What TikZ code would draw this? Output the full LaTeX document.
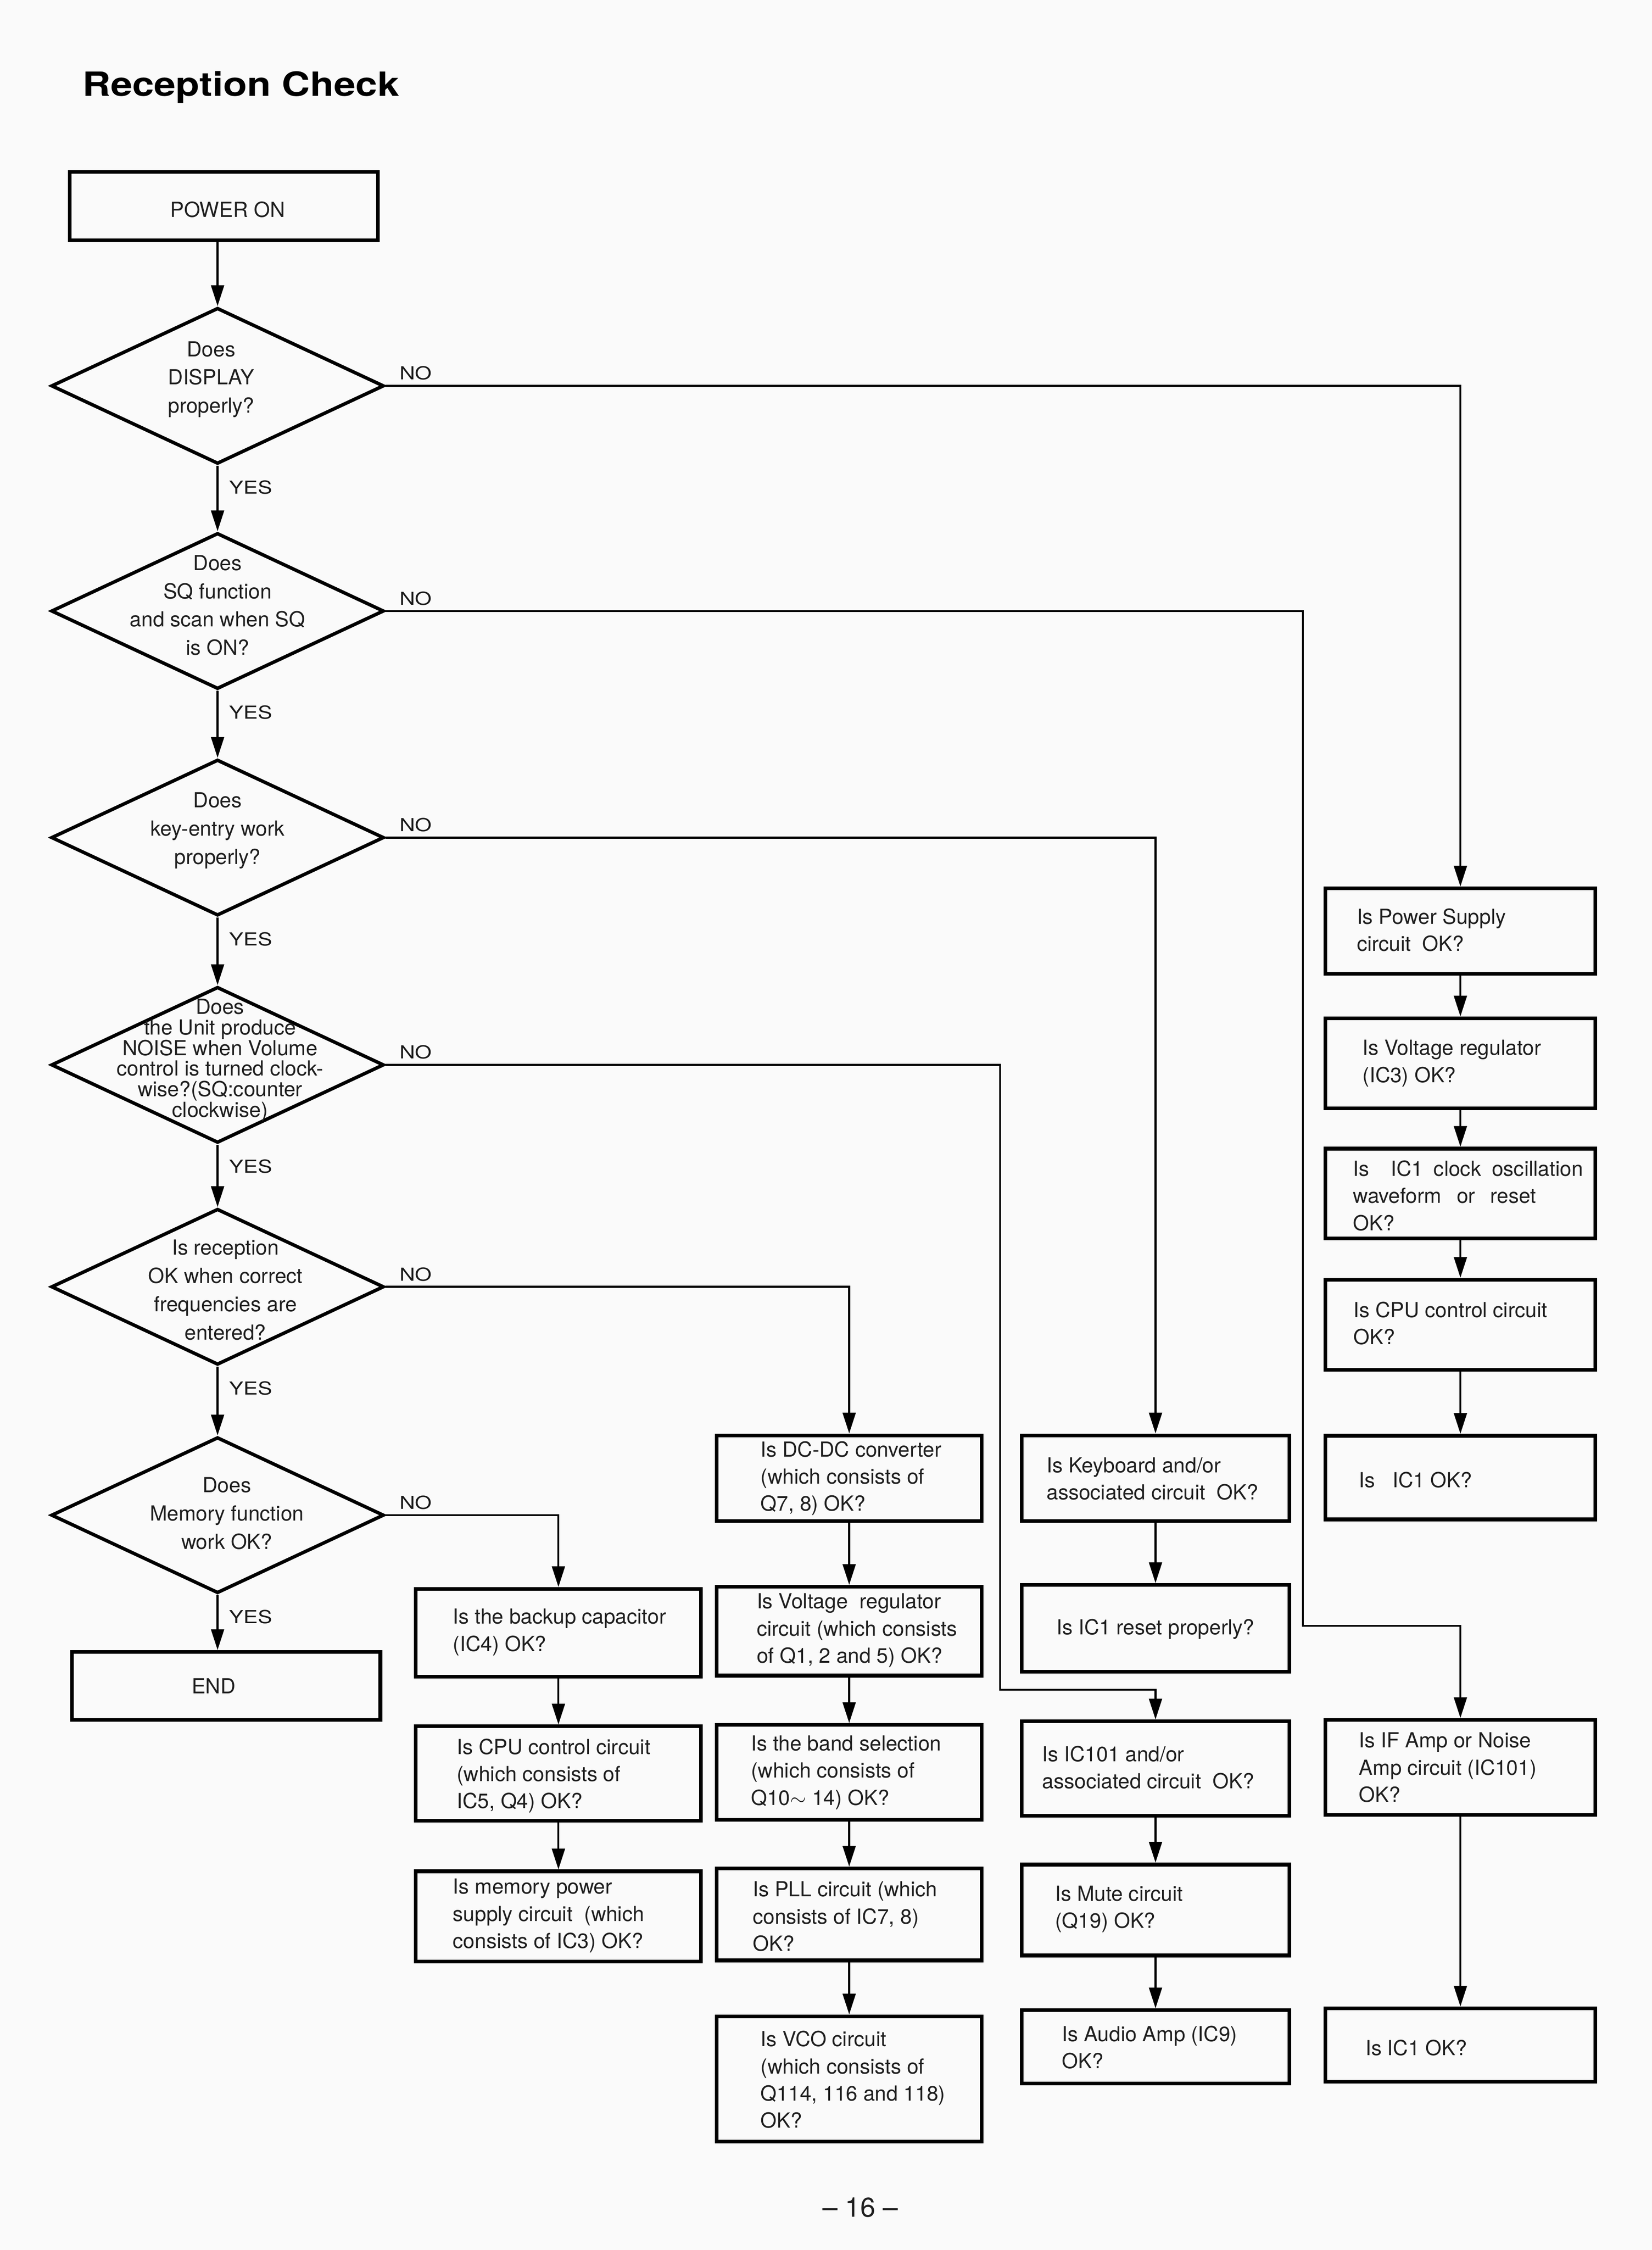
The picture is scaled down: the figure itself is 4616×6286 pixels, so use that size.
\documentclass[tikz,border=0pt]{standalone}
\usepackage{fontspec}
\setmainfont{TeX Gyre Heros}
\newfontfamily\titlefont[FakeStretch=1.17]{TeX Gyre Heros}
\newfontfamily\lblfont[FakeStretch=1.2]{TeX Gyre Heros}
\usetikzlibrary{shapes.geometric,arrows.meta}
\newcommand\bx[5]{\node[box, minimum width={(#4-#2)*0.25pt}, minimum height={(#5-#3)*0.25pt}] (#1) at ({(#2+#4)/2},{(#3+#5)/2}) {};}
\begin{document}
\begin{tikzpicture}[x=0.25pt,y=-0.25pt,
  box/.style={draw, line width=2.6pt, rectangle, inner sep=0pt},
  dia/.style={draw, line width=2.4pt, diamond, inner sep=0pt, minimum width=232.5pt, minimum height=109pt},
  conn/.style={line width=1.4pt},
  arr/.style={conn, -{Triangle[length=14.5pt,width=9pt]}},
  txt/.style={anchor=west, align=left, inner sep=0pt, text=black!88, font=\fontsize{14.5}{19}\selectfont},
  ctxt/.style={align=center, inner sep=0pt, text=black!88, font=\fontsize{14.5}{19.75}\selectfont},
  yes/.style={anchor=base west, inner sep=0pt, text=black!90, font=\lblfont\fontsize{12.5}{15}\selectfont, xshift=8pt, yshift=-19.75pt},
  no/.style={anchor=base west, inner sep=0pt, text=black!90, font=\lblfont\fontsize{12.5}{15}\selectfont, xshift=9.5pt, yshift=4.25pt}]
\fill[white!98!black] (0,0) rectangle (4616,6286);
\useasboundingbox (0,0) rectangle (4616,6286);

% title
\node[anchor=base west, inner sep=0pt, font=\titlefont\bfseries\fontsize{23.3}{28}\selectfont] (title) at (230,268) {Reception Check};

% main column
\bx{pwr}{195}{480}{1056}{671}
\node[ctxt] (tpwr) at (636,585) {POWER ON};
\node[dia] (d1) at (608,1078) {};
\node[ctxt] (t1) at (590,1060) {Does\\DISPLAY\\properly?};
\node[dia] (d2) at (608,1707) {};
\node[ctxt] (t2) at (608,1691) {Does\\SQ function\\and scan when SQ\\is ON?};
\node[dia] (d3) at (608,2340) {};
\node[ctxt] (t3) at (608,2320) {Does\\key-entry work\\properly?};
\node[dia] (d4) at (608,2975) {};
\node[ctxt, font=\fontsize{14.5}{14.4}\selectfont] (t4) at (615,2962) {Does\\the Unit produce\\NOISE when Volume\\control is turned clock-\\wise?(SQ:counter\\clockwise)};
\node[dia] (d5) at (608,3595) {};
\node[ctxt] (t5) at (630,3604) {Is reception\\OK when correct\\frequencies are\\entered?};
\node[dia] (d6) at (608,4233) {};
\node[ctxt] (t6) at (634,4228) {Does\\Memory function\\work OK?};
\bx{end}{201}{4615}{1063}{4805}
\node[ctxt] (tend) at (597,4710) {END};

% right column
\bx{ps}{3704}{2482}{4458}{2721}
\node[txt] (tps) at (3791,2598) {Is Power Supply\\circuit\ \ OK?};
\bx{vr}{3704}{2845}{4458}{3096}
\node[txt] (tvr) at (3807,2971) {Is Voltage regulator\\(IC3) OK?};
\bx{clk}{3704}{3209}{4458}{3460}
\node[txt] (tclk) at (3780,3340) {\makebox[160.75pt][s]{Is\ \ IC1 clock oscillation}\\\makebox[128pt][s]{waveform or reset}\\OK?};
\bx{cpu}{3704}{3575}{4458}{3827}
\node[txt] (tcpu) at (3782,3697) {Is CPU control circuit\\OK?};
\bx{ica}{3704}{4011}{4458}{4245}
\node[txt] (tica) at (3797,4135) {Is\ \ \ IC1 OK?};
\bx{ifamp}{3704}{4805}{4458}{5070}
\node[txt] (tifamp) at (3797,4938) {Is IF Amp or Noise\\Amp circuit (IC101)\\OK?};
\bx{icb}{3704}{5611}{4458}{5816}
\node[txt] (ticb) at (3815,5721) {Is IC1 OK?};

% keyboard column
\bx{kb}{2855}{4010}{3603}{4249}
\node[txt] (tkb) at (2924,4131) {Is Keyboard and/or\\associated circuit\ \ OK?};
\bx{rst}{2855}{4428}{3603}{4670}
\node[ctxt] (trst) at (3229,4552) {Is IC1 reset properly?};
\bx{ic101}{2855}{4809}{3603}{5073}
\node[txt] (tic101) at (2912,4938) {Is IC101 and/or\\associated circuit\ \ OK?};
\bx{mute}{2855}{5209}{3603}{5463}
\node[txt] (tmute) at (2948,5334) {Is Mute circuit\\(Q19) OK?};
\bx{audio}{2855}{5616}{3603}{5821}
\node[txt] (taudio) at (2967,5720) {Is Audio Amp (IC9)\\OK?};

% DC-DC column
\bx{dc}{2003}{4010}{2743}{4249}
\node[txt] (tdc) at (2125,4130) {Is DC-DC converter\\(which consists of\\Q7, 8) OK?};
\bx{vreg}{2003}{4433}{2743}{4681}
\node[txt] (tvreg) at (2114,4555) {Is Voltage\ \ regulator\\circuit (which consists\\of Q1, 2 and 5) OK?};
\bx{band}{2003}{4819}{2743}{5084}
\node[txt] (tband) at (2098,4952) {Is the band selection\\(which consists of\\Q10$\sim$ 14) OK?};
\bx{pll}{2003}{5220}{2743}{5477}
\node[txt] (tpll) at (2103,5354) {Is PLL circuit (which\\consists of IC7, 8)\\OK?};
\bx{vco}{2003}{5633}{2743}{5983}
\node[txt] (tvco) at (2125,5810) {Is VCO circuit\\(which consists of\\Q114, 116 and 118)\\OK?};

% left column
\bx{bk}{1162}{4439}{1959}{4684}
\node[txt] (tbk) at (1265,4560) {Is the backup capacitor\\(IC4) OK?};
\bx{cpub}{1162}{4823}{1959}{5087}
\node[txt] (tcpub) at (1276,4961) {Is CPU control circuit\\(which consists of\\IC5, Q4) OK?};
\bx{mem}{1162}{5228}{1959}{5480}
\node[txt] (tmem) at (1265,5352) {Is memory power\\supply circuit\ \ (which\\consists of IC3) OK?};

% page number
\node[inner sep=0pt, text=black!88, font=\fontsize{19}{22}\selectfont] (pg) at (2404,6167) {\textendash\ 16 \textendash};

% labels
\node[no] (no1) at (d1.east) {NO};
\node[no] (no2) at (d2.east) {NO};
\node[no] (no3) at (d3.east) {NO};
\node[no] (no4) at (d4.east) {NO};
\node[no] (no5) at (d5.east) {NO};
\node[no] (no6) at (d6.east) {NO};
\node[yes] (y1) at (d1.south) {YES};
\node[yes] (y2) at (d2.south) {YES};
\node[yes] (y3) at (d3.south) {YES};
\node[yes] (y4) at (d4.south) {YES};
\node[yes] (y5) at (d5.south) {YES};
\node[yes] (y6) at (d6.south) {YES};

% main flow
\draw[arr] (pwr.south -| d1.north) -- (d1.north);
\draw[arr] (d1.south) -- (d2.north);
\draw[arr] (d2.south) -- (d3.north);
\draw[arr] (d3.south) -- (d4.north);
\draw[arr] (d4.south) -- (d5.north);
\draw[arr] (d5.south) -- (d6.north);
\draw[arr] (d6.south) -- (d6.south |- end.north);

% NO branches
\coordinate (k2) at (3641,4542);
\coordinate (k4) at (2795,4721);
\draw[arr] (d1.east) -| (ps.north);
\draw[arr] (d2.east) -| (k2) -| (ifamp.north);
\draw[arr] (d3.east) -| (kb.north);
\draw[arr] (d4.east) -| (k4) -| (ic101.north);
\draw[arr] (d5.east) -| (dc.north);
\draw[arr] (d6.east) -| (bk.north);

% columns
\draw[arr] (ps) -- (vr);
\draw[arr] (vr) -- (clk);
\draw[arr] (clk) -- (cpu);
\draw[arr] (cpu) -- (ica);
\draw[arr] (ifamp) -- (icb);
\draw[arr] (kb) -- (rst);
\draw[arr] (ic101) -- (mute);
\draw[arr] (mute) -- (audio);
\draw[arr] (dc) -- (vreg);
\draw[arr] (vreg) -- (band);
\draw[arr] (band) -- (pll);
\draw[arr] (pll) -- (vco);
\draw[arr] (bk) -- (cpub);
\draw[arr] (cpub) -- (mem);
\end{tikzpicture}
\end{document}
